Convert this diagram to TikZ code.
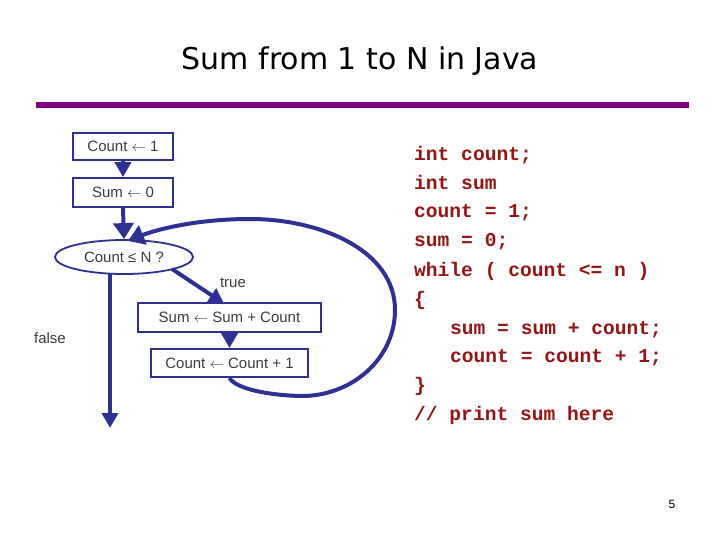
\documentclass[tikz,border=0pt]{standalone}
\usepackage{fontspec}
\setmainfont{Liberation Sans}
\newfontfamily\titlefont{DejaVu Sans}
\newfontfamily\codefont{Liberation Mono}
\newcommand{\flarrow}{$\leftarrow$}
\usetikzlibrary{arrows.meta,shapes.geometric}
\definecolor{navy}{RGB}{46,49,146}
\definecolor{barpurple}{RGB}{128,0,128}
\definecolor{codered}{RGB}{150,20,20}
\definecolor{txtgray}{RGB}{60,60,60}
\tikzset{
  flowbox/.style={draw=navy,line width=1.8pt,rectangle,inner sep=0pt,
    font=\fontsize{15}{17}\selectfont,text=txtgray},
  flowell/.style={draw=navy,line width=1.8pt,ellipse,inner sep=0pt,
    font=\fontsize{15}{17}\selectfont,text=txtgray},
  flowarrow/.style={draw=navy,line width=4pt,-{Triangle[width=16pt,length=15pt]}},
  bigarrow/.style={draw=navy,line width=4pt,-{Triangle[width=20pt,length=16pt]}},
  lbl/.style={font=\fontsize{15}{17}\selectfont,text=txtgray,inner sep=0pt},
  codeline/.style={font=\codefont\bfseries\fontsize{19.6}{22}\selectfont,text=codered,
    anchor=base west,inner sep=0pt}
}
\begin{document}
\begin{tikzpicture}[x=1pt,y=-1pt]
\useasboundingbox (0,0) rectangle (720,540);
% title
\node[font=\titlefont\fontsize{30}{33}\selectfont,anchor=base] (title) at (360,70) {Sum from 1 to N in Java};
\fill[barpurple] (36,102) rectangle (689,108);
% flowchart
\node[flowbox,minimum width=100pt,minimum height=27pt] (b1) at (123,146.5) {Count \flarrow{} 1};
\node[flowbox,minimum width=100pt,minimum height=29pt] (b2) at (123,192.5) {Sum \flarrow{} 0};
\node[flowell,minimum width=138pt,minimum height=34pt] (e) at (124,257) {Count ≤ N ?};
\node[flowbox,minimum width=183pt,minimum height=29pt] (b3) at (229.5,317.5) {Sum \flarrow{} Sum + Count};
\node[flowbox,minimum width=157pt,minimum height=28pt] (b4) at (229.5,363) {Count \flarrow{} Count + 1};
\node[lbl] (ltrue) at (233,283) {true};
\node[lbl] (lfalse) at (50,338) {false};
\coordinate (fstart) at (110,273);
\coordinate (fend) at (110,428);
\coordinate (loopend) at (128,241);
\coordinate (tstart) at (172,269);
\coordinate (tend) at (224,303.5);
\draw[flowarrow] (b1.south) -- (b2.north);
\draw[bigarrow] (b2.south) -- (e.north);
\draw[flowarrow] (tstart) -- (tend);
\draw[flowarrow] (b3.south) -- (b4.north);
\draw[flowarrow] (fstart) -- (fend);
\draw[bigarrow] (b4.south) .. controls (235,388) and (265,395) .. (300,396)
  .. controls (350,397) and (395,360) .. (395,310)
  .. controls (395,250) and (320,219) .. (250,219)
  .. controls (190,219) and (150,232) .. (loopend);
% code
\node[codeline] (c1) at (414,161) {int count;};
\node[codeline] (c2) at (414,190) {int sum};
\node[codeline] (c3) at (414,218) {count = 1;};
\node[codeline] (c4) at (414,247) {sum = 0;};
\node[codeline] (c5) at (414,276) {while ( count <= n )};
\node[codeline] (c6) at (414,305) {\{};
\node[codeline] (c7) at (450,334) {sum = sum + count;};
\node[codeline] (c8) at (450,362) {count = count + 1;};
\node[codeline] (c9) at (414,391) {\}};
\node[codeline] (c10) at (414,420) {// print sum here};
% page number
\node[font=\fontsize{12}{14}\selectfont,inner sep=0pt] (pn) at (672,504) {5};
\end{tikzpicture}
\end{document}
